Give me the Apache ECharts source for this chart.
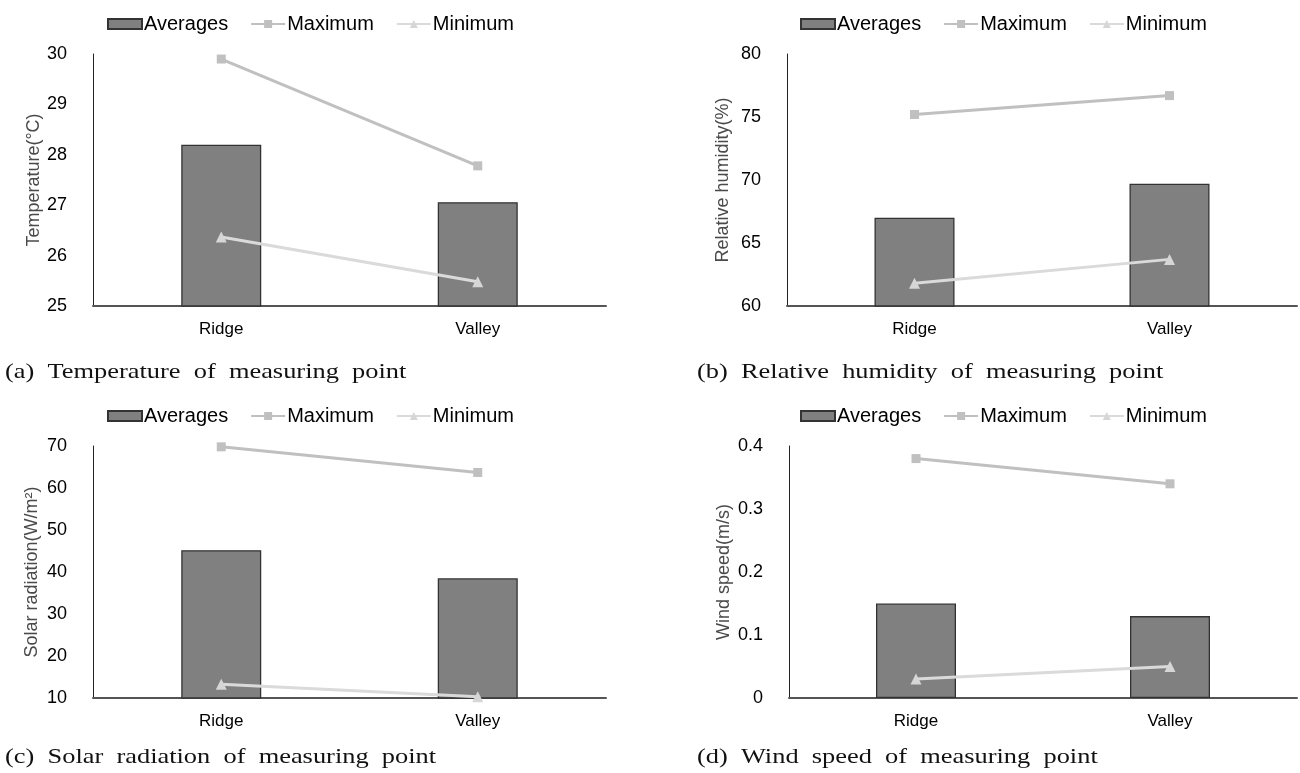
<!DOCTYPE html>
<html>
<head>
<meta charset="utf-8">
<script src="https://cdn.jsdelivr.net/npm/echarts@6/dist/echarts.min.js"></script>
<style>html,body{margin:0;padding:0;background:#fff}#c{width:1300px;height:773px}</style>
</head>
<body>
<div id="c"></div>
<script>
const categories = ['Ridge', 'Valley'];
const seriesNames = ['Averages', 'Maximum', 'Minimum'];

const tempAvg = [28.2, 27.06];
const tempMax = [29.9, 27.78];
const tempMin = [26.37, 25.48];

const humAvg = [67.0, 69.7];
const humMax = [75.2, 76.7];
const humMin = [61.8, 63.7];

const solarAvg = [45.2, 38.5];
const solarMax = [69.8, 63.7];
const solarMin = [13.3, 10.3];

const windAvg = [0.15, 0.13];
const windMax = [0.38, 0.34];
const windMin = [0.03, 0.05];

const yNames = ['Temperature(°C)', 'Relative humidity(%)', 'Solar radiation(W/m²)', 'Wind speed(m/s)'];
const yMin = [25, 60, 10, 0];
const yMax = [30, 80, 70, 0.4];
const yStep = [1, 5, 10, 0.1];
const captions = [
  '(a)  Temperature  of  measuring  point',
  '(b)  Relative  humidity  of  measuring  point',
  '(c)  Solar  radiation  of  measuring  point',
  '(d)  Wind  speed  of  measuring  point'
];

const panels = [
  [tempAvg, tempMax, tempMin],
  [humAvg, humMax, humMin],
  [solarAvg, solarMax, solarMin],
  [windAvg, windMax, windMin]
];

const gridPos = [
  {left: 93, top: 54, width: 513, height: 252},
  {left: 787, top: 54, width: 510, height: 252},
  {left: 93, top: 446, width: 513, height: 252},
  {left: 789, top: 446, width: 508, height: 252}
];
const nameGaps = [50, 55, 52, 56];
const legendPos = [{left: 102, top: 9}, {left: 795, top: 9}, {left: 102, top: 401}, {left: 795, top: 401}];
const captionPos = [[5, 373], [697, 373], [5, 758], [697, 758]];

const sans = 'Liberation Sans, Arial, sans-serif';

const grid = [], xAxis = [], yAxis = [], legend = [], series = [], graphic = [];
panels.forEach((p, i) => {
  grid.push(Object.assign({containLabel: false}, gridPos[i]));
  xAxis.push({
    type: 'category', gridIndex: i, data: categories,
    axisLine: {lineStyle: {color: '#555', width: 2}},
    axisTick: {show: false},
    axisLabel: {color: '#000', fontSize: 17, fontFamily: sans, margin: 15},
    splitLine: {show: false}
  });
  yAxis.push({
    type: 'value', gridIndex: i, min: yMin[i], max: yMax[i], interval: yStep[i],
    name: yNames[i], nameLocation: 'middle', nameGap: nameGaps[i],
    nameTextStyle: {color: '#4a4a4a', fontSize: 18, fontFamily: sans},
    axisLine: {show: true, lineStyle: {color: '#222', width: 1}},
    axisTick: {show: false},
    axisLabel: {color: '#000', fontSize: 18, fontFamily: sans, margin: 26},
    splitLine: {show: false}
  });
  legend.push({
    left: legendPos[i].left, top: legendPos[i].top,
    data: [
      {name: 'Averages', icon: 'rect'},
      {name: 'Maximum'},
      {name: 'Minimum'}
    ],
    itemWidth: 34, itemHeight: 10, itemGap: 22,
    textStyle: {color: '#000', fontSize: 20, fontFamily: sans, padding: [0, 0, 0, -3]},
    selectedMode: false
  });
  series.push({
    name: 'Averages', type: 'bar', xAxisIndex: i, yAxisIndex: i, data: p[0],
    barWidth: 80,
    itemStyle: {color: '#808080', borderColor: '#333', borderWidth: 1.3}
  });
  series.push({
    name: 'Maximum', type: 'line', xAxisIndex: i, yAxisIndex: i, data: p[1],
    symbol: 'rect', symbolSize: 9, showSymbol: true,
    lineStyle: {color: '#c0c0c0', width: 3},
    itemStyle: {color: '#c0c0c0'}
  });
  series.push({
    name: 'Minimum', type: 'line', xAxisIndex: i, yAxisIndex: i, data: p[2],
    symbol: 'triangle', symbolSize: 11, showSymbol: true,
    lineStyle: {color: '#dadada', width: 3},
    itemStyle: {color: '#d6d6d6'}
  });
  graphic.push({
    type: 'text', left: captionPos[i][0], top: captionPos[i][1] - 12,
    scaleX: 1.2, originX: 0,
    style: {text: captions[i], font: '22px "Liberation Serif", "Times New Roman", serif', fill: '#111'}
  });
});

const chart = echarts.init(document.getElementById('c'), null, {renderer: 'canvas'});
chart.setOption({
  animation: false,
  backgroundColor: '#fff',
  grid, xAxis, yAxis, legend, series, graphic
});
</script>
</body>
</html>
